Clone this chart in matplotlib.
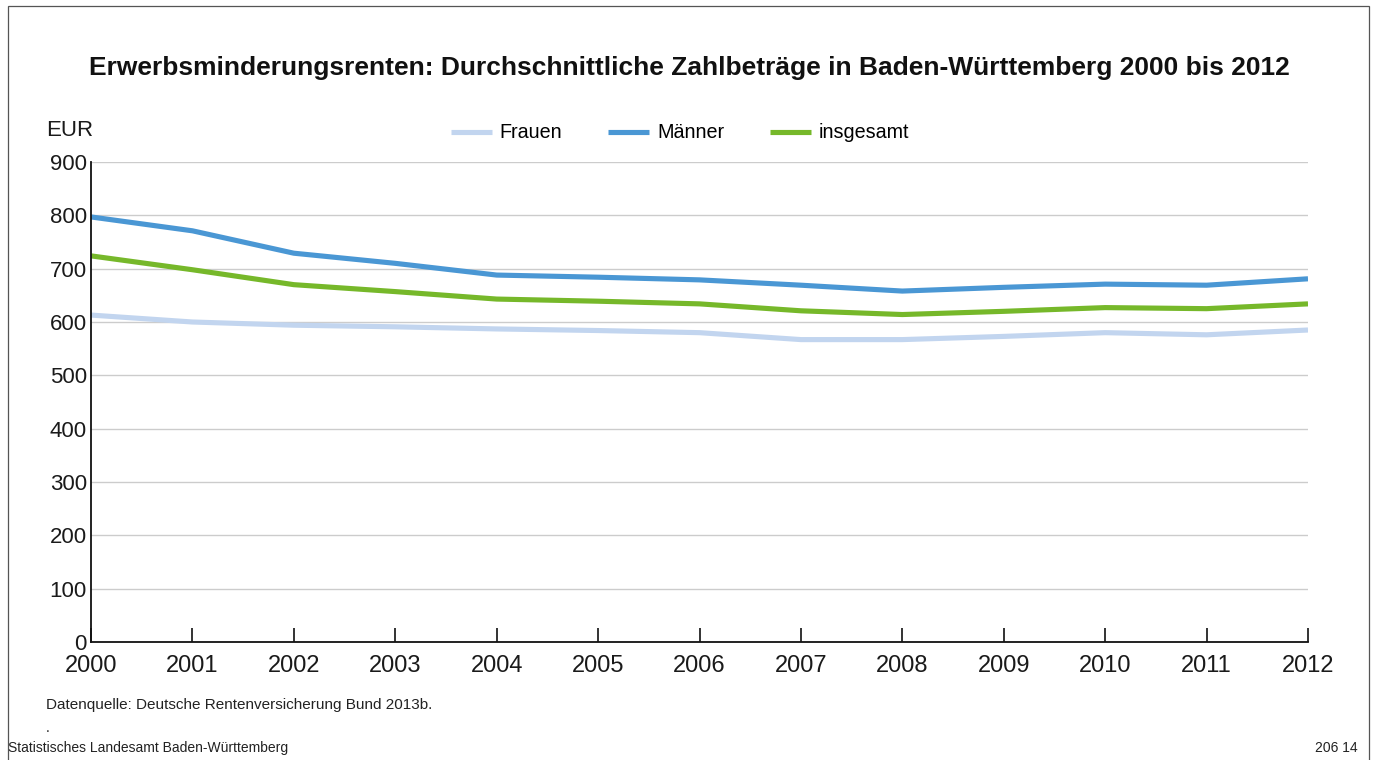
import matplotlib
matplotlib.use("Agg")
import matplotlib.pyplot as plt
from matplotlib.patches import Rectangle

years = [2000, 2001, 2002, 2003, 2004, 2005, 2006, 2007, 2008, 2009, 2010, 2011, 2012]
frauen = [613, 600, 594, 591, 587, 584, 580, 567, 567, 573, 580, 576, 585]
maenner = [797, 771, 729, 710, 688, 684, 679, 669, 658, 665, 671, 669, 681]
insgesamt = [724, 698, 670, 657, 643, 639, 634, 621, 614, 620, 627, 625, 634]
series_names = ["Frauen", "Männer", "insgesamt"]
yticks = [0, 100, 200, 300, 400, 500, 600, 700, 800, 900]

plt.rcParams['font.family'] = ['Liberation Sans', 'DejaVu Sans']

W, H = 1376, 760
fig = plt.figure(figsize=(W / 100, H / 100), dpi=100)

# frame
fig.patches.append(Rectangle((8 / W, -0.01), (1369 - 8) / W, (H - 6) / H + 0.01,
                             transform=fig.transFigure, fill=False,
                             edgecolor='#555555', linewidth=0.9))

ax = fig.add_axes([91 / W, 1 - 642 / H, (1308 - 91) / W, (642 - 162) / H])
colors = ['#c2d5ef', '#4a97d4', '#76b82a']
for vals, name, c in zip([frauen, maenner, insgesamt], series_names, colors):
    ax.plot(years, vals, color=c, linewidth=3.7, label=name, solid_capstyle='butt')

ax.set_xlim(2000, 2012)
ax.set_ylim(0, 900)
ax.set_yticks(yticks)
ax.set_xticks(years)
ax.set_xticklabels([str(y) for y in years], fontsize=17, color='#1a1a1a')
ax.set_yticklabels([str(v) for v in yticks], fontsize=16, color='#1a1a1a')
ax.tick_params(axis='x', direction='in', length=10, width=1.2, pad=9, color='#111111')
ax.tick_params(axis='y', length=0, pad=3)
ax.grid(axis='y', color='#cccccc', linewidth=1)
ax.set_axisbelow(True)
for s in ['top', 'right']:
    ax.spines[s].set_visible(False)
for s in ['left', 'bottom']:
    ax.spines[s].set_color('#111111')
    ax.spines[s].set_linewidth(1.3)

leg = fig.legend(loc='center', bbox_to_anchor=(680 / W, 1 - 133 / H), ncol=3,
                 frameon=False, fontsize=14.2, handlelength=2.1, columnspacing=2.3,
                 handletextpad=0.4)

fig.text(689 / W, 1 - 68 / H,
         "Erwerbsminderungsrenten: Durchschnittliche Zahlbeträge in Baden-Württemberg 2000 bis 2012",
         ha='center', va='center', fontsize=19, fontweight='bold', color='#111111')
fig.text(46 / W, 1 - 130 / H, "EUR", ha='left', va='center', fontsize=16, color='#1a1a1a')
fig.text(46 / W, 1 - 705 / H, "Datenquelle: Deutsche Rentenversicherung Bund 2013b.",
         ha='left', va='center', fontsize=11, color='#222222')
fig.text(46 / W, 1 - 728 / H, ".", ha='left', va='center', fontsize=10, color='#222222')
fig.text(8 / W, 1 - 748 / H, "Statistisches Landesamt Baden-Württemberg",
         ha='left', va='center', fontsize=10, color='#222222')
fig.text(1358 / W, 1 - 748 / H, "206 14", ha='right', va='center', fontsize=10, color='#222222')

fig.savefig("out.png", dpi=100)
